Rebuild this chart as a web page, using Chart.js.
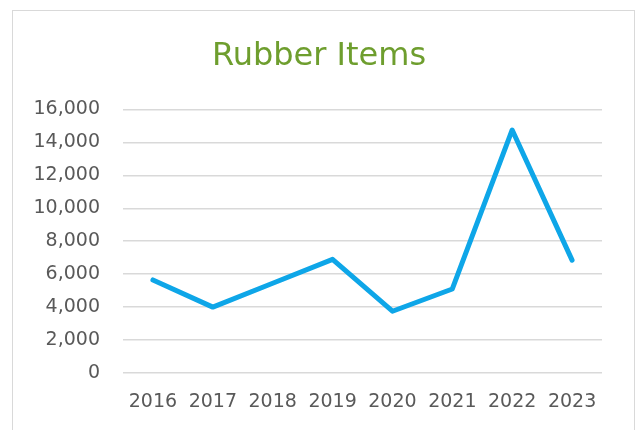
<!DOCTYPE html>
<html>
<head>
<meta charset="utf-8">
<script src="https://cdn.jsdelivr.net/npm/chart.js@4/dist/chart.umd.min.js"></script>
<style>
  html, body { margin: 0; padding: 0; background: #ffffff; }
  #wrap { position: relative; width: 638px; height: 430px; overflow: hidden; }
  #frame { position: absolute; left: 12px; top: 10px; width: 623px; height: 440px; border: 1.5px solid #D9D9D9; box-sizing: border-box; }
  canvas { position: absolute; left: 0; top: 0; }
</style>
</head>
<body>
<div id="wrap">
  <div id="frame"></div>
  <canvas id="c" width="638" height="430"></canvas>
</div>
<script>
const chartTitle = 'Rubber Items';
const categories = ['2016', '2017', '2018', '2019', '2020', '2021', '2022', '2023'];
const rubberValues = [5650, 4000, 5450, 6900, 3750, 5100, 14750, 6850];
const yTicks = [0, 2000, 4000, 6000, 8000, 10000, 12000, 14000, 16000];

const ctx = document.getElementById('c').getContext('2d');
new Chart(ctx, {
  type: 'line',
  data: {
    labels: categories,
    datasets: [{
      label: chartTitle,
      data: rubberValues,
      borderColor: '#0EA6E8',
      borderWidth: 5,
      borderCapStyle: 'round',
      borderJoinStyle: 'round',
      pointRadius: 0,
      pointHoverRadius: 0,
      tension: 0,
      fill: false
    }]
  },
  options: {
    responsive: false,
    animation: false,
    devicePixelRatio: 1,
    layout: { padding: { left: 0, right: 0, top: 0, bottom: 0 } },
    plugins: {
      legend: { display: false },
      tooltip: { enabled: false },
      title: {
        display: true,
        text: chartTitle,
        color: '#6E9E2E',
        font: { family: 'DejaVu Sans', size: 32, weight: 'normal', lineHeight: 1.2 },
        padding: { top: 37, bottom: 34 }
      }
    },
    scales: {
      x: {
        offset: true,
        grid: { display: false, drawTicks: false },
        border: { display: false },
        ticks: {
          color: '#595959',
          font: { family: 'DejaVu Sans', size: 19 },
          padding: 18,
          maxRotation: 0,
          autoSkip: false
        },
        afterFit: (s) => { s.height = 57; }
      },
      y: {
        min: 0,
        max: 16000,
        afterBuildTicks: (s) => { s.ticks = yTicks.map(v => ({ value: v })); },
        grid: { color: '#D9D9D9', lineWidth: 1.5, drawTicks: false },
        border: { display: false },
        ticks: {
          color: '#595959',
          font: { family: 'DejaVu Sans', size: 19 },
          padding: 23,
          callback: (v) => v.toLocaleString('en-US')
        },
        afterFit: (s) => { s.width = 123; }
      },
      yRight: {
        position: 'right',
        min: 0,
        max: 16000,
        grid: { display: false, drawTicks: false },
        border: { display: false },
        ticks: { display: false },
        afterFit: (s) => { s.width = 36; }
      }
    }
  }
});
</script>
</body>
</html>
